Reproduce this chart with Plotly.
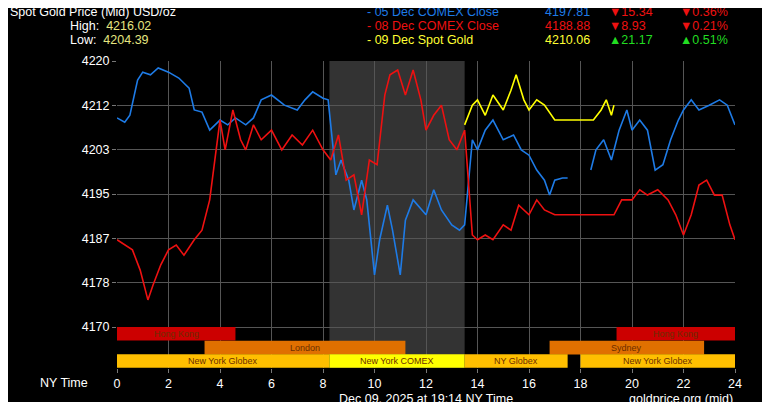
import plotly.graph_objects as go

# 05 Dec COMEX close (blue)
blue_x1 = [0, 0.3, 0.5, 0.8, 1, 1.3, 1.6, 2, 2.4, 2.8, 3, 3.3, 3.6, 4, 4.3, 4.6, 5, 5.3, 5.6, 6, 6.5, 7, 7.3, 7.6, 8, 8.2,
           8.5, 8.7, 9, 9.2, 9.5, 9.7, 10, 10.2, 10.5, 10.7, 11, 11.2, 11.5, 12, 12.3, 12.6, 13, 13.3, 13.5, 13.8, 14,
           14.3, 14.6, 15, 15.4, 15.7, 16, 16.3, 16.6, 16.8, 17, 17.3, 17.5]
blue_y1 = [4209.3, 4208.5, 4209.8, 4216.4, 4217.9, 4217.4, 4218.7, 4217.9, 4216.8, 4214.9, 4210.8, 4210.4, 4207.0,
           4208.9, 4208.0, 4209.3, 4208.0, 4209.3, 4212.7, 4213.6, 4211.7, 4210.8, 4212.7, 4214.2, 4213.0, 4212.7,
           4198.6, 4201.4, 4197.6, 4192.0, 4197.6, 4193.9, 4179.8, 4186.4, 4192.9, 4188.2, 4179.8, 4190.1, 4193.9,
           4191.1, 4195.8, 4192.0, 4189.2, 4188.2, 4189.2, 4205.2, 4203.3, 4207.0, 4208.9, 4205.2, 4206.1, 4203.3,
           4202.3, 4199.5, 4197.6, 4194.8, 4197.6, 4198.0, 4198.0]
blue_x2 = [18.4, 18.6, 18.9, 19.2, 19.5, 19.8, 20, 20.3, 20.6, 20.9, 21.2, 21.5, 21.8, 22, 22.3, 22.6, 23, 23.4, 23.7, 24]
blue_y2 = [4199.5, 4203.3, 4205.2, 4201.4, 4207.0, 4210.8, 4207.0, 4208.9, 4207.0, 4199.5, 4200.5, 4205.2, 4208.9,
           4210.8, 4212.7, 4210.8, 4211.7, 4212.7, 4211.7, 4208.0]

# 08 Dec COMEX close (red)
red_x = [0, 0.3, 0.6, 0.9, 1.2, 1.4, 1.7, 2, 2.3, 2.6, 3, 3.3, 3.6, 3.8, 4, 4.2, 4.5, 4.8, 5, 5.3, 5.6, 6, 6.4, 6.8,
         7.2, 7.6, 8, 8.3, 8.6, 8.9, 9.2, 9.5, 9.8, 10.1, 10.4, 10.6, 10.9, 11.2, 11.5, 11.8, 12, 12.3, 12.6, 12.9,
         13.2, 13.5, 13.8, 14, 14.3, 14.6, 15, 15.3, 15.6, 16, 16.3, 16.6, 17, 17.3, 19.3, 19.6, 20, 20.3, 20.6, 21,
         21.4, 21.7, 22, 22.3, 22.6, 22.9, 23.2, 23.5, 23.8, 24]
red_y = [4186.4, 4185.4, 4184.5, 4180.7, 4175.1, 4177.9, 4181.7, 4184.5, 4185.4, 4183.5, 4186.4, 4188.2, 4193.9,
         4201.4, 4208.9, 4203.3, 4210.8, 4205.2, 4203.3, 4208.0, 4205.2, 4207.0, 4203.3, 4206.1, 4204.2, 4207.0,
         4203.3, 4201.4, 4206.1, 4197.6, 4198.6, 4191.1, 4201.4, 4200.5, 4213.6, 4217.4, 4218.3, 4213.6, 4218.3,
         4212.7, 4207.0, 4209.8, 4211.7, 4205.2, 4203.3, 4207.0, 4187.3, 4186.4, 4187.3, 4186.4, 4189.2, 4188.2,
         4192.9, 4191.1, 4193.9, 4192.0, 4191.1, 4191.1, 4191.1, 4193.9, 4193.9, 4195.8, 4194.8, 4195.8, 4193.9,
         4191.1, 4187.3, 4191.1, 4196.7, 4197.6, 4194.8, 4194.8, 4189.2, 4186.4]

# 09 Dec spot gold (yellow)
yel_x = [13.5, 13.8, 14, 14.3, 14.6, 15, 15.3, 15.5, 15.8, 16, 16.3, 16.6, 17, 18, 18.5, 18.8, 19, 19.2, 19.3]
yel_y = [4208.0, 4211.7, 4212.7, 4209.8, 4213.6, 4210.8, 4214.5, 4217.4, 4212.7, 4210.8, 4212.7, 4211.7, 4208.9,
         4208.9, 4208.9, 4210.8, 4212.7, 4209.8, 4211.7]

y_ticks = [4170, 4178.33, 4186.67, 4195, 4203.33, 4211.67, 4220]
y_labels = ["4170", "4178", "4187", "4195", "4203", "4212", "4220"]
x_ticks = list(range(0, 25, 2))

# trading sessions: (name, start, end, row, colour)
sessions = [
    ("Hong Kong", 0, 4.6, 0, "#cc0000"), ("Hong Kong", 19.4, 24, 0, "#cc0000"),
    ("London", 3.4, 11.2, 1, "#e07000"), ("Sydney", 16.8, 22.8, 1, "#e07000"),
    ("New York Globex", 0, 8.25, 2, "#ffbf00"), ("New York COMEX", 8.25, 13.5, 2, "#ffff00"),
    ("NY Globex", 13.5, 17.5, 2, "#ffbf00"), ("New York Globex", 18, 24, 2, "#ffbf00"),
]
comex_open, comex_close = 8.25, 13.5

row_top = [4170, 4167.4, 4164.9]
row_h = 2.55

fig = go.Figure()
shapes = [dict(type="rect", x0=comex_open, x1=comex_close, y0=4162.3, y1=4220, fillcolor="#333333",
               line_width=0, layer="below")]
annos = []
for name, s, e, r, c in sessions:
    shapes.append(dict(type="rect", x0=s, x1=e, y0=row_top[r] - row_h, y1=row_top[r], fillcolor=c,
                       line_width=0, layer="above"))
    annos.append(dict(x=(s + e) / 2, y=row_top[r] - row_h / 2, text=name, showarrow=False,
                      font=dict(size=9, color="#6b2e00")))

fig.add_trace(go.Scatter(x=blue_x1, y=blue_y1, mode="lines", line=dict(color="#1e7be6", width=1.6)))
fig.add_trace(go.Scatter(x=blue_x2, y=blue_y2, mode="lines", line=dict(color="#1e7be6", width=1.6)))
fig.add_trace(go.Scatter(x=red_x, y=red_y, mode="lines", line=dict(color="#ee1111", width=1.6)))
fig.add_trace(go.Scatter(x=yel_x, y=yel_y, mode="lines", line=dict(color="#ffff00", width=1.6)))

BLUE, RED, YEL, GRN = "#1e7be6", "#ee1111", "#ffff33", "#22dd22"


def px(x, y):
    # window pixel -> paper coords of plot area (117..735, 61..368)
    return (x - 117) / 618, (368 - y) / 307


header = [
    (8, 3, "Spot Gold Price (Mid) USD/oz", "#ffffff"),
    (68, 17, "High:  <span style='color:#e6e680'>4216.02</span>", "#ffffff"),
    (68, 31, "Low:  <span style='color:#e6e680'>4204.39</span>", "#ffffff"),
    (365, 3, "- 05 Dec COMEX Close", BLUE),
    (365, 17, "- 08 Dec COMEX Close", RED),
    (365, 31, "- 09 Dec Spot Gold", YEL),
    (543, 3, "4197.81", BLUE), (543, 17, "4188.88", RED), (543, 31, "4210.06", YEL),
    (607, 3, "▼15.34", RED), (607, 17, "▼8.93", RED), (607, 31, "▲21.17", GRN),
    (678, 3, "▼0.36%", RED), (678, 17, "▼0.21%", RED), (678, 31, "▲0.51%", GRN),
]
for x, y, t, c in header:
    xp, yp = px(x, y)
    annos.append(dict(xref="paper", yref="paper", x=xp, y=yp, xanchor="left", yanchor="top", text=t,
                      showarrow=False, font=dict(size=12.5, color=c)))

for x, y, t, anc in [(90, 374, "NY Time", "right"), (426, 390, "Dec 09, 2025 at 19:14 NY Time", "center"),
                     (735, 390, "goldprice.org (mid)", "right")]:
    xp, yp = px(x, y)
    annos.append(dict(xref="paper", yref="paper", x=xp, y=yp, xanchor=anc, yanchor="top", text=t,
                      showarrow=False, font=dict(size=12.5, color="#ffffff")))

fig.update_layout(
    width=754, height=394, margin=dict(l=109, r=27, t=53, b=34),
    paper_bgcolor="black", plot_bgcolor="black", showlegend=False,
    font=dict(family="Liberation Sans", color="#ffffff", size=12),
    shapes=shapes, annotations=annos,
)
fig.update_xaxes(range=[0, 24], tickvals=x_ticks, showgrid=True, gridcolor="#555555", gridwidth=1,
                 zeroline=False, ticks="outside", ticklen=4, tickcolor="#777777", showline=False,
                 tickfont=dict(size=12.5))
fig.update_yaxes(range=[4162.3, 4220], tickvals=y_ticks, ticktext=y_labels, showgrid=True,
                 gridcolor="#555555", zeroline=False, ticks="outside", ticklen=4, tickcolor="#777777",
                 tickfont=dict(size=12.5))

fig.write_html("out.html")
